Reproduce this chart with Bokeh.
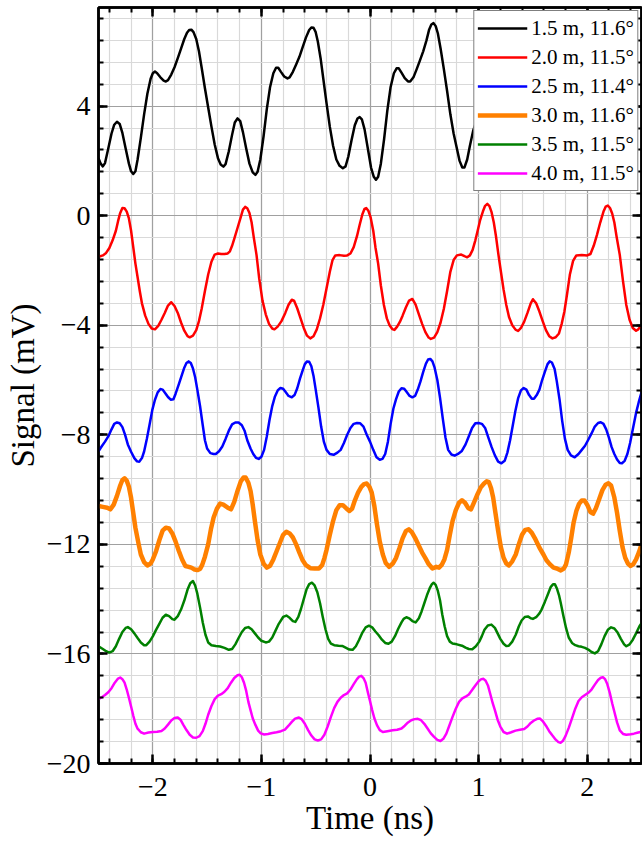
from bokeh.plotting import figure
from bokeh.models import (Range1d, LinearAxis, SingleIntervalTicker, CustomJSTickFormatter,
                          Legend, LegendItem)
from bokeh.embed import file_html
from bokeh.resources import INLINE

# ---------------- data ----------------
labels = ["1.5 m, 11.6°", "2.0 m, 11.5°", "2.5 m, 11.4°",
          "3.0 m, 11.6°", "3.5 m, 11.5°", "4.0 m, 11.5°"]
colors = ["#000000", "#ff0000", "#0000ff", "#ff8000", "#008000", "#ff00ff"]
widths = [2.5, 2.5, 2.5, 4.5, 2.5, 2.5]

# (time ns, signal mV) pairs
black = [(-2.50, 2.10), (-2.48, 1.90), (-2.46, 1.80), (-2.44, 1.92), (-2.41, 2.45), (-2.38, 3.00),
         (-2.355, 3.32), (-2.33, 3.43), (-2.305, 3.35), (-2.28, 3.02), (-2.25, 2.45), (-2.22, 1.90),
         (-2.20, 1.62), (-2.18, 1.52), (-2.16, 1.62), (-2.14, 2.05), (-2.11, 2.85), (-2.08, 3.70),
         (-2.05, 4.45), (-2.02, 5.00), (-2.00, 5.20), (-1.98, 5.26), (-1.96, 5.20), (-1.93, 5.05),
         (-1.90, 4.93), (-1.88, 4.90), (-1.86, 4.95), (-1.83, 5.15), (-1.80, 5.42), (-1.77, 5.75),
         (-1.74, 6.10), (-1.71, 6.45), (-1.685, 6.68), (-1.665, 6.78), (-1.645, 6.79), (-1.625, 6.70),
         (-1.60, 6.45), (-1.575, 6.00), (-1.55, 5.40), (-1.52, 4.65), (-1.49, 3.95), (-1.46, 3.25),
         (-1.43, 2.60), (-1.40, 2.10), (-1.375, 1.87), (-1.35, 1.79), (-1.33, 1.88), (-1.30, 2.35),
         (-1.27, 2.95), (-1.245, 3.40), (-1.22, 3.55), (-1.195, 3.45), (-1.17, 3.05), (-1.14, 2.45),
         (-1.11, 1.90), (-1.08, 1.58), (-1.055, 1.49), (-1.035, 1.60), (-1.01, 2.05), (-0.98, 2.90),
         (-0.95, 3.90), (-0.92, 4.70), (-0.89, 5.20), (-0.865, 5.40), (-0.845, 5.40), (-0.82, 5.25),
         (-0.79, 5.08), (-0.76, 5.01), (-0.74, 5.05), (-0.71, 5.25), (-0.68, 5.52), (-0.65, 5.80),
         (-0.62, 6.15), (-0.59, 6.50), (-0.56, 6.78), (-0.54, 6.87), (-0.52, 6.86), (-0.50, 6.70),
         (-0.48, 6.35), (-0.455, 5.75), (-0.43, 5.00), (-0.40, 4.10), (-0.37, 3.25), (-0.34, 2.55),
         (-0.31, 2.05), (-0.28, 1.82), (-0.25, 1.73), (-0.225, 1.80), (-0.20, 2.15), (-0.17, 2.75),
         (-0.14, 3.30), (-0.115, 3.55), (-0.095, 3.60), (-0.075, 3.52), (-0.05, 3.15), (-0.02, 2.45),
         (0.01, 1.75), (0.035, 1.42), (0.055, 1.31), (0.075, 1.42), (0.10, 1.90), (0.13, 2.80),
         (0.16, 3.85), (0.19, 4.70), (0.22, 5.20), (0.245, 5.38), (0.265, 5.38), (0.29, 5.22),
         (0.32, 5.02), (0.35, 4.90), (0.37, 4.90), (0.40, 5.05), (0.43, 5.35), (0.46, 5.67),
         (0.49, 6.00), (0.52, 6.40), (0.545, 6.80), (0.565, 6.98), (0.585, 7.03), (0.605, 6.92),
         (0.625, 6.65), (0.65, 6.10), (0.68, 5.35), (0.71, 4.55), (0.74, 3.70), (0.77, 3.00),
         (0.80, 2.45), (0.825, 2.00), (0.85, 1.76), (0.87, 1.76), (0.895, 2.05), (0.92, 2.55),
         (0.95, 3.10), (0.98, 3.45), (1.00, 3.60), (1.03, 3.70)]

red = [(-2.49, -1.49), (-2.46, -1.45), (-2.43, -1.36), (-2.40, -1.18), (-2.37, -0.90), (-2.34, -0.55),
       (-2.32, -0.20), (-2.30, 0.10), (-2.28, 0.28), (-2.26, 0.27), (-2.24, 0.15), (-2.22, -0.10),
       (-2.20, -0.55), (-2.18, -1.15), (-2.16, -1.75), (-2.14, -2.25), (-2.12, -2.75), (-2.10, -3.20),
       (-2.07, -3.65), (-2.04, -3.95), (-2.01, -4.12), (-1.98, -4.15), (-1.95, -4.02), (-1.92, -3.80),
       (-1.89, -3.55), (-1.86, -3.28), (-1.83, -3.16), (-1.80, -3.30), (-1.77, -3.55), (-1.74, -3.90),
       (-1.71, -4.20), (-1.68, -4.40), (-1.66, -4.44), (-1.63, -4.38), (-1.60, -4.18), (-1.575, -3.85),
       (-1.55, -3.40), (-1.52, -2.75), (-1.49, -2.15), (-1.46, -1.68), (-1.43, -1.42), (-1.40, -1.38),
       (-1.37, -1.40), (-1.34, -1.40), (-1.31, -1.38), (-1.29, -1.30), (-1.27, -1.10), (-1.25, -0.85),
       (-1.22, -0.45), (-1.19, -0.05), (-1.17, 0.22), (-1.15, 0.32), (-1.13, 0.27), (-1.11, 0.10),
       (-1.09, -0.25), (-1.07, -0.80), (-1.045, -1.43), (-1.02, -2.30), (-0.99, -3.10), (-0.96, -3.60),
       (-0.93, -3.95), (-0.90, -4.12), (-0.88, -4.15), (-0.85, -4.05), (-0.815, -3.85), (-0.78, -3.55),
       (-0.75, -3.25), (-0.72, -3.07), (-0.70, -3.10), (-0.67, -3.38), (-0.64, -3.74), (-0.61, -4.10),
       (-0.58, -4.38), (-0.55, -4.48), (-0.52, -4.40), (-0.49, -4.15), (-0.46, -3.75), (-0.43, -3.25),
       (-0.40, -2.65), (-0.37, -2.05), (-0.345, -1.62), (-0.32, -1.45), (-0.28, -1.44), (-0.24, -1.46),
       (-0.21, -1.45), (-0.18, -1.38), (-0.15, -1.15), (-0.12, -0.75), (-0.095, -0.33), (-0.07, 0.05),
       (-0.05, 0.25), (-0.035, 0.28), (-0.015, 0.18), (0.005, -0.05), (0.03, -0.55), (0.05, -1.15),
       (0.075, -1.75), (0.10, -2.55), (0.128, -3.26), (0.155, -3.75), (0.18, -4.00), (0.205, -4.14),
       (0.225, -4.17), (0.25, -4.05), (0.275, -3.88), (0.30, -3.65), (0.33, -3.35), (0.36, -3.10),
       (0.39, -3.04), (0.42, -3.25), (0.45, -3.60), (0.48, -3.95), (0.51, -4.25), (0.54, -4.45),
       (0.56, -4.50), (0.59, -4.45), (0.62, -4.25), (0.65, -3.90), (0.68, -3.40), (0.71, -2.75),
       (0.74, -2.05), (0.77, -1.62), (0.80, -1.45), (0.84, -1.42), (0.87, -1.48), (0.895, -1.52),
       (0.92, -1.45), (0.945, -1.25), (0.97, -0.90), (0.99, -0.57), (1.015, -0.15), (1.04, 0.16),
       (1.06, 0.36), (1.08, 0.43), (1.10, 0.35), (1.12, 0.12), (1.14, -0.25), (1.16, -0.75),
       (1.18, -1.35), (1.20, -1.90), (1.23, -2.70), (1.255, -3.26), (1.28, -3.70), (1.31, -4.00),
       (1.34, -4.16), (1.364, -4.21), (1.39, -4.10), (1.42, -3.87), (1.45, -3.55), (1.48, -3.20),
       (1.50, -3.05), (1.53, -3.20), (1.56, -3.50), (1.59, -3.85), (1.62, -4.18), (1.65, -4.40),
       (1.68, -4.48), (1.71, -4.44), (1.74, -4.30), (1.765, -3.95), (1.79, -3.50), (1.815, -2.85),
       (1.84, -2.16), (1.87, -1.65), (1.90, -1.45), (1.95, -1.44), (2.00, -1.45), (2.03, -1.40),
       (2.06, -1.10), (2.09, -0.70), (2.12, -0.25), (2.15, 0.15), (2.17, 0.33), (2.19, 0.37),
       (2.21, 0.28), (2.23, 0.08), (2.25, -0.25), (2.27, -0.75), (2.30, -1.43), (2.33, -2.40),
       (2.36, -3.26), (2.39, -3.80), (2.42, -4.10), (2.45, -4.20), (2.47, -4.15), (2.49, -4.05)]

blue = [(-2.50, -8.60), (-2.47, -8.42), (-2.44, -8.25), (-2.41, -8.06), (-2.38, -7.80), (-2.355, -7.60),
        (-2.33, -7.55), (-2.305, -7.58), (-2.28, -7.72), (-2.255, -8.00), (-2.23, -8.35), (-2.20, -8.62),
        (-2.17, -8.85), (-2.145, -8.97), (-2.125, -8.98), (-2.10, -8.85), (-2.08, -8.61), (-2.055, -8.15),
        (-2.03, -7.63), (-2.005, -7.10), (-1.98, -6.72), (-1.955, -6.45), (-1.93, -6.33), (-1.91, -6.35),
        (-1.885, -6.48), (-1.86, -6.62), (-1.835, -6.72), (-1.81, -6.70), (-1.79, -6.50), (-1.76, -6.15),
        (-1.735, -5.85), (-1.71, -5.55), (-1.69, -5.38), (-1.67, -5.32), (-1.65, -5.38), (-1.63, -5.58),
        (-1.61, -5.90), (-1.59, -6.35), (-1.565, -6.95), (-1.54, -7.65), (-1.52, -8.20), (-1.50, -8.50),
        (-1.47, -8.67), (-1.44, -8.70), (-1.42, -8.70), (-1.39, -8.60), (-1.36, -8.43), (-1.33, -8.15),
        (-1.30, -7.85), (-1.27, -7.62), (-1.24, -7.55), (-1.21, -7.55), (-1.18, -7.65), (-1.155, -7.85),
        (-1.13, -8.20), (-1.10, -8.50), (-1.075, -8.70), (-1.05, -8.84), (-1.025, -8.88), (-1.00, -8.80),
        (-0.975, -8.55), (-0.95, -8.05), (-0.925, -7.45), (-0.90, -6.95), (-0.875, -6.60), (-0.85, -6.38),
        (-0.825, -6.29), (-0.80, -6.32), (-0.775, -6.45), (-0.75, -6.58), (-0.72, -6.63), (-0.695, -6.55),
        (-0.67, -6.30), (-0.645, -5.95), (-0.62, -5.65), (-0.60, -5.42), (-0.58, -5.32), (-0.56, -5.33),
        (-0.54, -5.50), (-0.52, -5.85), (-0.50, -6.35), (-0.475, -7.00), (-0.45, -7.70), (-0.425, -8.25),
        (-0.40, -8.55), (-0.37, -8.70), (-0.335, -8.73), (-0.30, -8.65), (-0.27, -8.55), (-0.24, -8.30),
        (-0.21, -8.00), (-0.18, -7.75), (-0.15, -7.60), (-0.12, -7.57), (-0.09, -7.58), (-0.06, -7.70),
        (-0.03, -8.00), (0.00, -8.25), (0.03, -8.55), (0.06, -8.82), (0.09, -8.91), (0.115, -8.88),
        (0.14, -8.70), (0.165, -8.25), (0.19, -7.60), (0.215, -7.05), (0.24, -6.70), (0.265, -6.42),
        (0.29, -6.30), (0.315, -6.32), (0.34, -6.45), (0.365, -6.58), (0.39, -6.63), (0.415, -6.58),
        (0.44, -6.35), (0.465, -6.05), (0.49, -5.70), (0.515, -5.40), (0.535, -5.25), (0.555, -5.23),
        (0.575, -5.32), (0.595, -5.55), (0.62, -6.00), (0.645, -6.65), (0.67, -7.40), (0.695, -8.10),
        (0.72, -8.55), (0.75, -8.72), (0.78, -8.76), (0.81, -8.70), (0.846, -8.59), (0.88, -8.35),
        (0.91, -8.05), (0.94, -7.75), (0.97, -7.58), (1.00, -7.57), (1.03, -7.60), (1.06, -7.75),
        (1.09, -8.10), (1.12, -8.45), (1.15, -8.75), (1.18, -8.98), (1.21, -9.04), (1.24, -8.95),
        (1.265, -8.65), (1.29, -8.20), (1.315, -7.65), (1.34, -7.10), (1.365, -6.65), (1.39, -6.38),
        (1.415, -6.29), (1.44, -6.35), (1.465, -6.55), (1.49, -6.68), (1.51, -6.68), (1.535, -6.55),
        (1.56, -6.35), (1.585, -6.00), (1.61, -5.70), (1.635, -5.42), (1.655, -5.32), (1.675, -5.36),
        (1.70, -5.60), (1.72, -6.05), (1.745, -6.70), (1.77, -7.50), (1.795, -8.15), (1.82, -8.55),
        (1.85, -8.75), (1.885, -8.82), (1.92, -8.70), (1.95, -8.55), (1.98, -8.40), (2.01, -8.18),
        (2.04, -7.95), (2.07, -7.70), (2.10, -7.57), (2.125, -7.54), (2.15, -7.60), (2.175, -7.80),
        (2.20, -8.10), (2.225, -8.45), (2.25, -8.70), (2.275, -8.90), (2.30, -9.03), (2.32, -9.04),
        (2.345, -8.95), (2.37, -8.70), (2.395, -8.30), (2.42, -7.80), (2.45, -7.20), (2.475, -6.80),
        (2.50, -6.45)]

orange = [(-2.50, -10.60), (-2.46, -10.63), (-2.42, -10.66), (-2.39, -10.72), (-2.36, -10.55),
          (-2.33, -10.23), (-2.30, -9.85), (-2.28, -9.65), (-2.26, -9.59), (-2.24, -9.68), (-2.22, -9.90),
          (-2.20, -10.30), (-2.18, -10.85), (-2.16, -11.40), (-2.13, -12.00), (-2.11, -12.37),
          (-2.08, -12.65), (-2.05, -12.77), (-2.02, -12.70), (-2.00, -12.55), (-1.97, -12.25),
          (-1.94, -11.85), (-1.91, -11.50), (-1.88, -11.39), (-1.85, -11.42), (-1.82, -11.60),
          (-1.79, -11.90), (-1.76, -12.24), (-1.73, -12.55), (-1.70, -12.79), (-1.67, -12.82),
          (-1.645, -12.85), (-1.615, -12.92), (-1.59, -12.94), (-1.565, -12.90), (-1.545, -12.75),
          (-1.52, -12.45), (-1.49, -12.00), (-1.465, -11.45), (-1.44, -11.02), (-1.41, -10.70),
          (-1.38, -10.51), (-1.35, -10.55), (-1.31, -10.66), (-1.28, -10.72), (-1.25, -10.45),
          (-1.22, -10.05), (-1.19, -9.70), (-1.165, -9.56), (-1.145, -9.56), (-1.12, -9.75),
          (-1.10, -10.05), (-1.08, -10.55), (-1.06, -11.15), (-1.035, -11.85), (-1.01, -12.37),
          (-0.98, -12.70), (-0.95, -12.85), (-0.92, -12.78), (-0.89, -12.55), (-0.86, -12.25),
          (-0.83, -11.95), (-0.80, -11.65), (-0.77, -11.54), (-0.74, -11.60), (-0.71, -11.75),
          (-0.68, -12.00), (-0.65, -12.30), (-0.62, -12.58), (-0.59, -12.76), (-0.55, -12.87),
          (-0.51, -12.88), (-0.47, -12.88), (-0.44, -12.75), (-0.42, -12.50), (-0.40, -12.20),
          (-0.37, -11.65), (-0.34, -11.15), (-0.31, -10.75), (-0.28, -10.57), (-0.25, -10.57),
          (-0.22, -10.68), (-0.19, -10.78), (-0.165, -10.70), (-0.14, -10.40), (-0.11, -10.11),
          (-0.08, -9.90), (-0.055, -9.80), (-0.03, -9.78), (-0.005, -9.90), (0.016, -10.11),
          (0.04, -10.60), (0.064, -11.27), (0.09, -11.90), (0.118, -12.37), (0.145, -12.68),
          (0.176, -12.82), (0.21, -12.70), (0.24, -12.49), (0.27, -12.15), (0.30, -11.78),
          (0.33, -11.52), (0.358, -11.45), (0.385, -11.55), (0.415, -11.76), (0.45, -12.05),
          (0.48, -12.30), (0.51, -12.50), (0.54, -12.72), (0.575, -12.88), (0.61, -12.82),
          (0.635, -12.85), (0.66, -12.75), (0.685, -12.55), (0.71, -12.20), (0.735, -11.65),
          (0.76, -11.15), (0.79, -10.75), (0.82, -10.48), (0.847, -10.39), (0.875, -10.48),
          (0.905, -10.68), (0.93, -10.72), (0.96, -10.45), (0.99, -10.17), (1.02, -9.92),
          (1.05, -9.78), (1.075, -9.70), (1.095, -9.73), (1.115, -9.95), (1.134, -10.29),
          (1.155, -10.85), (1.18, -11.51), (1.205, -12.10), (1.23, -12.49), (1.255, -12.70),
          (1.278, -12.77), (1.31, -12.62), (1.342, -12.37), (1.37, -12.00), (1.40, -11.65),
          (1.43, -11.47), (1.46, -11.45), (1.49, -11.58), (1.524, -11.82), (1.56, -12.12),
          (1.597, -12.37), (1.625, -12.58), (1.655, -12.72), (1.69, -12.85), (1.72, -12.88),
          (1.757, -12.95), (1.785, -12.88), (1.805, -12.73), (1.83, -12.30), (1.853, -11.76),
          (1.875, -11.20), (1.90, -10.78), (1.925, -10.52), (1.95, -10.40), (1.975, -10.40),
          (2.00, -10.55), (2.03, -10.82), (2.054, -10.88), (2.08, -10.68), (2.11, -10.35),
          (2.14, -10.02), (2.17, -9.82), (2.195, -9.77), (2.22, -9.85), (2.25, -10.29),
          (2.275, -10.85), (2.30, -11.51), (2.325, -12.10), (2.35, -12.49), (2.375, -12.70),
          (2.40, -12.79), (2.425, -12.72), (2.45, -12.55), (2.475, -12.30), (2.50, -12.00)]

green = [(-2.50, -15.72), (-2.46, -15.82), (-2.43, -15.90), (-2.40, -15.95), (-2.37, -15.90),
         (-2.34, -15.72), (-2.31, -15.45), (-2.28, -15.20), (-2.25, -15.05), (-2.23, -15.02),
         (-2.20, -15.10), (-2.17, -15.25), (-2.14, -15.42), (-2.11, -15.58), (-2.08, -15.68),
         (-2.06, -15.68), (-2.03, -15.55), (-2.00, -15.36), (-1.97, -15.12), (-1.94, -14.90),
         (-1.91, -14.68), (-1.88, -14.57), (-1.85, -14.62), (-1.82, -14.73), (-1.80, -14.75),
         (-1.77, -14.62), (-1.74, -14.38), (-1.71, -14.05), (-1.68, -13.65), (-1.655, -13.42),
         (-1.63, -13.34), (-1.61, -13.50), (-1.59, -13.80), (-1.565, -14.30), (-1.54, -14.85),
         (-1.515, -15.30), (-1.49, -15.58), (-1.46, -15.68), (-1.42, -15.71), (-1.38, -15.73),
         (-1.34, -15.78), (-1.30, -15.85), (-1.27, -15.82), (-1.24, -15.65), (-1.21, -15.42),
         (-1.18, -15.20), (-1.15, -15.05), (-1.12, -15.02), (-1.09, -15.10), (-1.06, -15.25),
         (-1.03, -15.40), (-1.00, -15.52), (-0.96, -15.58), (-0.93, -15.55), (-0.90, -15.40),
         (-0.87, -15.15), (-0.84, -14.90), (-0.80, -14.65), (-0.77, -14.60), (-0.74, -14.68),
         (-0.71, -14.80), (-0.687, -14.83), (-0.66, -14.65), (-0.635, -14.35), (-0.61, -14.00),
         (-0.585, -13.65), (-0.56, -13.45), (-0.535, -13.40), (-0.51, -13.50), (-0.485, -13.75),
         (-0.46, -14.15), (-0.435, -14.65), (-0.41, -15.10), (-0.385, -15.45), (-0.36, -15.62),
         (-0.33, -15.68), (-0.29, -15.70), (-0.256, -15.71), (-0.22, -15.78), (-0.19, -15.84),
         (-0.16, -15.85), (-0.13, -15.72), (-0.10, -15.48), (-0.07, -15.22), (-0.04, -15.03),
         (-0.01, -14.97), (0.02, -15.03), (0.05, -15.18), (0.08, -15.32), (0.11, -15.48),
         (0.14, -15.60), (0.17, -15.63), (0.20, -15.55), (0.23, -15.35), (0.26, -15.08),
         (0.29, -14.85), (0.31, -14.72), (0.335, -14.66), (0.36, -14.70), (0.39, -14.80),
         (0.42, -14.85), (0.45, -14.70), (0.475, -14.45), (0.50, -14.15), (0.525, -13.85),
         (0.55, -13.60), (0.57, -13.45), (0.585, -13.40), (0.605, -13.48), (0.625, -13.70),
         (0.645, -14.05), (0.665, -14.55), (0.687, -14.99), (0.71, -15.35), (0.735, -15.55),
         (0.76, -15.62), (0.80, -15.65), (0.847, -15.70), (0.88, -15.77), (0.91, -15.82),
         (0.942, -15.83), (0.975, -15.72), (1.006, -15.55), (1.03, -15.35), (1.054, -15.12),
         (1.085, -14.96), (1.118, -14.93), (1.15, -15.05), (1.175, -15.25), (1.20, -15.45),
         (1.23, -15.63), (1.255, -15.71), (1.278, -15.70), (1.31, -15.55), (1.342, -15.30),
         (1.37, -15.00), (1.396, -14.78), (1.425, -14.65), (1.454, -14.63), (1.48, -14.70),
         (1.50, -14.72), (1.53, -14.66), (1.56, -14.52), (1.58, -14.38), (1.61, -14.10),
         (1.64, -13.80), (1.665, -13.55), (1.685, -13.46), (1.703, -13.46), (1.72, -13.60),
         (1.74, -13.85), (1.757, -14.15), (1.78, -14.60), (1.805, -15.05), (1.83, -15.40),
         (1.86, -15.60), (1.89, -15.68), (1.92, -15.72), (1.95, -15.74), (1.98, -15.78),
         (2.01, -15.84), (2.04, -15.93), (2.07, -15.98), (2.10, -15.90), (2.13, -15.65),
         (2.16, -15.35), (2.19, -15.12), (2.22, -15.03), (2.25, -15.07), (2.28, -15.22),
         (2.31, -15.45), (2.34, -15.65), (2.36, -15.72), (2.39, -15.65), (2.42, -15.48),
         (2.45, -15.25), (2.48, -15.00), (2.50, -14.88)]

magenta = [(-2.50, -17.65), (-2.47, -17.58), (-2.44, -17.50), (-2.41, -17.40), (-2.38, -17.25),
           (-2.35, -17.05), (-2.32, -16.90), (-2.30, -16.86), (-2.28, -16.92), (-2.26, -17.05),
           (-2.24, -17.30), (-2.22, -17.60), (-2.20, -17.92), (-2.18, -18.25), (-2.16, -18.55),
           (-2.14, -18.73), (-2.11, -18.86), (-2.08, -18.91), (-2.04, -18.87), (-2.00, -18.85),
           (-1.96, -18.84), (-1.92, -18.81), (-1.89, -18.72), (-1.86, -18.58), (-1.83, -18.43),
           (-1.80, -18.34), (-1.77, -18.32), (-1.745, -18.40), (-1.72, -18.58), (-1.69, -18.78),
           (-1.66, -18.95), (-1.63, -19.05), (-1.60, -19.06), (-1.57, -19.00), (-1.54, -18.82),
           (-1.515, -18.55), (-1.49, -18.22), (-1.46, -17.90), (-1.43, -17.65), (-1.40, -17.52),
           (-1.37, -17.47), (-1.34, -17.38), (-1.31, -17.25), (-1.28, -17.05), (-1.25, -16.88),
           (-1.22, -16.78), (-1.20, -16.76), (-1.18, -16.85), (-1.16, -17.05), (-1.14, -17.35),
           (-1.12, -17.75), (-1.10, -18.05), (-1.08, -18.35), (-1.054, -18.60), (-1.03, -18.80),
           (-1.006, -18.90), (-0.974, -18.94), (-0.94, -18.92), (-0.90, -18.89), (-0.86, -18.86),
           (-0.82, -18.82), (-0.783, -18.76), (-0.75, -18.62), (-0.72, -18.48), (-0.69, -18.36),
           (-0.655, -18.32), (-0.63, -18.38), (-0.60, -18.55), (-0.57, -18.78), (-0.54, -18.98),
           (-0.51, -19.12), (-0.48, -19.16), (-0.45, -19.12), (-0.42, -18.95), (-0.39, -18.65),
           (-0.36, -18.30), (-0.33, -17.98), (-0.30, -17.75), (-0.27, -17.60), (-0.24, -17.50),
           (-0.21, -17.44), (-0.18, -17.30), (-0.15, -17.10), (-0.12, -16.92), (-0.10, -16.83),
           (-0.08, -16.80), (-0.06, -16.88), (-0.04, -17.05), (-0.02, -17.40), (0.00, -17.72),
           (0.02, -18.05), (0.04, -18.35), (0.064, -18.60), (0.09, -18.78), (0.118, -18.85),
           (0.16, -18.82), (0.208, -18.79), (0.25, -18.77), (0.29, -18.72), (0.32, -18.62),
           (0.35, -18.50), (0.38, -18.42), (0.41, -18.38), (0.44, -18.37), (0.47, -18.42),
           (0.50, -18.55), (0.53, -18.72), (0.56, -18.90), (0.59, -19.03), (0.62, -19.14),
           (0.649, -19.18), (0.675, -19.10), (0.703, -18.91), (0.73, -18.62), (0.76, -18.30),
           (0.79, -18.00), (0.82, -17.75), (0.85, -17.62), (0.88, -17.56), (0.91, -17.48),
           (0.94, -17.32), (0.97, -17.15), (1.00, -17.00), (1.025, -16.92), (1.045, -16.91),
           (1.065, -16.98), (1.086, -17.15), (1.11, -17.50), (1.13, -17.80), (1.15, -18.05),
           (1.175, -18.40), (1.20, -18.65), (1.23, -18.85), (1.262, -18.91), (1.30, -18.86),
           (1.34, -18.80), (1.38, -18.77), (1.42, -18.74), (1.45, -18.65), (1.48, -18.52),
           (1.51, -18.43), (1.54, -18.37), (1.566, -18.36), (1.59, -18.45), (1.62, -18.62),
           (1.65, -18.82), (1.68, -18.98), (1.71, -19.13), (1.735, -19.22), (1.755, -19.24),
           (1.775, -19.18), (1.80, -19.00), (1.83, -18.70), (1.86, -18.35), (1.89, -18.00),
           (1.92, -17.72), (1.95, -17.58), (1.98, -17.50), (2.01, -17.42), (2.04, -17.30),
           (2.07, -17.12), (2.10, -16.95), (2.125, -16.87), (2.145, -16.85), (2.165, -16.92),
           (2.185, -17.10), (2.21, -17.45), (2.23, -17.80), (2.25, -18.11), (2.275, -18.50),
           (2.30, -18.79), (2.33, -18.92), (2.36, -18.95), (2.40, -18.93), (2.43, -18.91),
           (2.46, -18.88), (2.49, -18.85)]

series = [black, red, blue, orange, green, magenta]

FONT = "Liberation Serif"

p = figure(width=642, height=842, output_backend="svg", toolbar_location=None,
           x_range=Range1d(-2.5, 2.5), y_range=Range1d(-20, 7.6),
           min_border_left=98, min_border_right=1, min_border_top=7, min_border_bottom=79,
           x_axis_label="Time (ns)", y_axis_label="Signal (mV)")
p.background_fill_color = "white"
p.border_fill_color = "white"
p.outline_line_color = "black"
p.outline_line_width = 2.5

fmt = CustomJSTickFormatter(code="return (tick < 0 ? '\\u2212' : '') + Math.abs(tick).toString();")
blank = CustomJSTickFormatter(code="return '';")
xt = SingleIntervalTicker(interval=1, num_minor_ticks=5)
yt = SingleIntervalTicker(interval=4, num_minor_ticks=5)

def style_axis(ax, show_labels):
    ax.axis_line_color = "black"
    ax.axis_line_width = 2.5
    ax.major_tick_in = 9
    ax.major_tick_out = 0
    ax.minor_tick_in = 5
    ax.minor_tick_out = 0
    ax.major_tick_line_width = 2.5
    ax.minor_tick_line_width = 2
    ax.major_tick_line_color = "black"
    ax.minor_tick_line_color = "black"
    if show_labels:
        ax.formatter = fmt
        ax.major_label_text_font = FONT
        ax.major_label_text_font_size = "28px"
        ax.major_label_text_color = "black"
        ax.axis_label_text_font = FONT
        ax.axis_label_text_font_size = "33px"
        ax.axis_label_text_font_style = "normal"
        ax.axis_label_text_color = "black"
    else:
        ax.formatter = blank
        ax.major_label_text_font_size = "1px"
        ax.major_label_standoff = 0

p.xaxis.ticker = xt
p.yaxis.ticker = yt
style_axis(p.xaxis[0], True)
style_axis(p.yaxis[0], True)
p.xaxis.major_label_standoff = 14
p.xaxis.axis_label_standoff = 1
p.yaxis.major_label_standoff = 8
p.yaxis.axis_label_standoff = 3

top = LinearAxis(ticker=xt)
right = LinearAxis(ticker=yt)
style_axis(top, False)
style_axis(right, False)
p.add_layout(top, "above")
p.add_layout(right, "right")

for g in (p.xgrid, p.ygrid):
    g.grid_line_color = "#a0a0a0"
    g.grid_line_width = 1.2
    g.minor_grid_line_color = "#d9d9d9"
    g.minor_grid_line_width = 1.2
p.xgrid.ticker = xt
p.ygrid.ticker = yt

items = []
for data, c, w, lab in zip(series, colors, widths, labels):
    x = [pt[0] for pt in data]
    y = [pt[1] for pt in data]
    r = p.line(x, y, line_color=c, line_width=w, line_join="round")
    items.append(LegendItem(label=lab, renderers=[r]))

legend = Legend(items=items, location="top_right")
legend.label_text_font = FONT
legend.label_text_font_size = "21px"
legend.label_text_color = "black"
legend.border_line_color = "black"
legend.border_line_width = 1.2
legend.background_fill_color = "white"
legend.background_fill_alpha = 1.0
legend.padding = 3
legend.margin = 3
legend.spacing = 1
legend.glyph_width = 50
legend.glyph_height = 28
legend.label_height = 28
legend.label_standoff = 4
p.add_layout(legend, "center")

open("out.html", "w").write(file_html(p, INLINE))
